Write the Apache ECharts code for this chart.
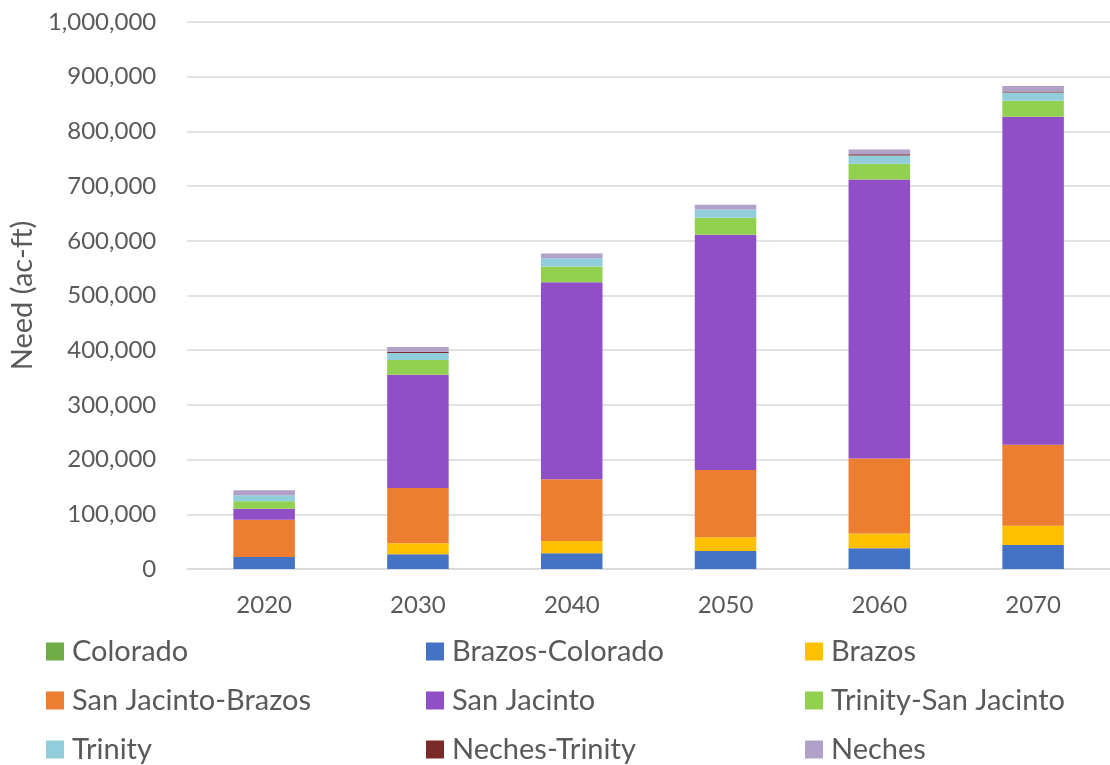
<!DOCTYPE html>
<html>
<head>
<meta charset="utf-8">
<script src="https://cdn.jsdelivr.net/npm/echarts@6/dist/echarts.min.js"></script>
<style>
html,body{margin:0;padding:0;background:#fff;}
#chart{width:1110px;height:765px;}
</style>
</head>
<body>
<div id="chart"></div>
<script>
const categories = ['2020', '2030', '2040', '2050', '2060', '2070'];
const seriesNames = ['Colorado', 'Brazos-Colorado', 'Brazos', 'San Jacinto-Brazos', 'San Jacinto', 'Trinity-San Jacinto', 'Trinity', 'Neches-Trinity', 'Neches'];
const colorado          = [0, 0, 0, 0, 0, 0];
const brazosColorado    = [22000, 27000, 29000, 33000, 38000, 44000];
const brazos            = [0, 20000, 22000, 25000, 27000, 35000];
const sanJacintoBrazos  = [68000, 101000, 113000, 123000, 137000, 148000];
const sanJacinto        = [20000, 207000, 360000, 430000, 510000, 600000];
const trinitySanJacinto = [14000, 27000, 29000, 31000, 29000, 29000];
const trinity           = [11000, 13000, 15000, 15000, 15000, 15000];
const nechesTrinity     = [0, 2000, 0, 0, 2000, 2000];
const neches            = [9000, 9000, 9000, 9000, 9000, 10000];
const yTicks = {min: 0, max: 1000000, interval: 100000};

const seriesData = [colorado, brazosColorado, brazos, sanJacintoBrazos, sanJacinto, trinitySanJacinto, trinity, nechesTrinity, neches];
const colors = ['#70AD47', '#4472C4', '#FFC000', '#ED7D31', '#914FC7', '#92D050', '#92CDDC', '#7B2A2A', '#B1A0C7'];
const FONT = 'Lato';

const chart = echarts.init(document.getElementById('chart'));
const legendCommon = {
  orient: 'vertical',
  top: 637,
  height: 140,
  padding: 0,
  itemWidth: 18,
  itemHeight: 18,
  itemGap: 20,
  icon: 'rect',
  selectedMode: false,
  textStyle: {fontFamily: FONT, fontSize: 29, color: '#595959', lineHeight: 29, padding: [0, 0, 0, 3]}
};
chart.setOption({
  animation: false,
  color: colors,
  grid: {left: 180, top: 22, bottom: 196, width: 936, containLabel: false},
  legend: [
    Object.assign({}, legendCommon, {left: 46, data: [seriesNames[0], seriesNames[3], seriesNames[6]]}),
    Object.assign({}, legendCommon, {left: 426, data: [seriesNames[1], seriesNames[4], seriesNames[7]]}),
    Object.assign({}, legendCommon, {left: 805, data: [seriesNames[2], seriesNames[5], seriesNames[8]]})
  ],
  xAxis: {
    type: 'category',
    data: categories,
    axisTick: {show: false},
    axisLine: {lineStyle: {color: '#D9D9D9', width: 1.5}},
    axisLabel: {fontFamily: FONT, fontSize: 24, color: '#595959', margin: 24}
  },
  yAxis: {
    type: 'value',
    min: yTicks.min, max: yTicks.max, interval: yTicks.interval,
    name: 'Need (ac-ft)',
    nameLocation: 'middle',
    nameGap: 150,
    nameTextStyle: {fontFamily: FONT, fontSize: 29, color: '#595959'},
    axisLine: {show: false},
    axisTick: {show: false},
    splitLine: {lineStyle: {color: '#D9D9D9', width: 1.5}},
    axisLabel: {
      fontFamily: FONT, fontSize: 24, color: '#595959', margin: 31,
      formatter: v => v.toLocaleString('en-US')
    }
  },
  series: seriesNames.map((n, i) => ({
    name: n,
    type: 'bar',
    stack: 'total',
    barWidth: '40%',
    data: seriesData[i]
  }))
});
</script>
</body>
</html>
